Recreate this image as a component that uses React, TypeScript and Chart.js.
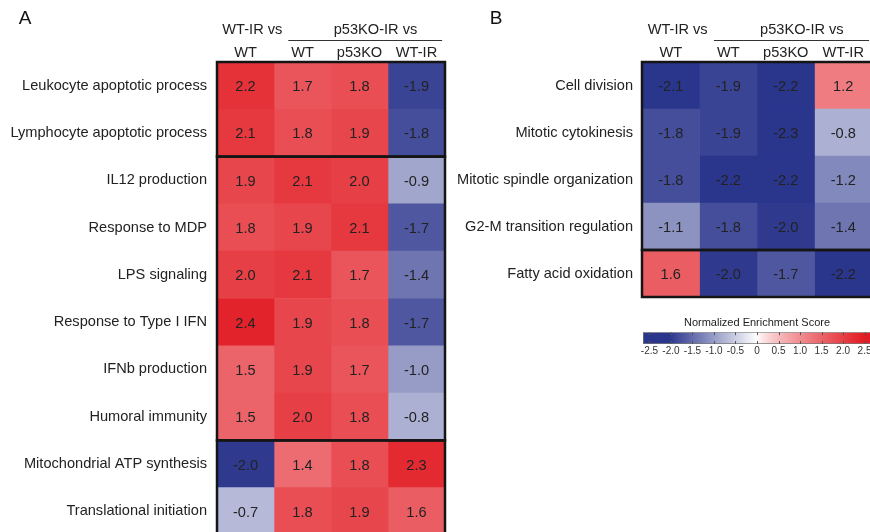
import React, { useEffect, useRef } from 'react';
import { Chart, registerables } from 'chart.js';

Chart.register(...registerables);

const FONT = "'Liberation Sans', Arial, Helvetica, sans-serif";
const TEXT = '#222222';
const FS = 14.6;

// ---- Data ----
const colLabels = ['WT', 'WT', 'p53KO', 'WT-IR'];
const groupHeaderLeft = 'WT-IR vs';
const groupHeaderRight = 'p53KO-IR vs';

const rowsA = [
  'Leukocyte apoptotic process',
  'Lymphocyte apoptotic process',
  'IL12 production',
  'Response to MDP',
  'LPS signaling',
  'Response to Type I IFN',
  'IFNb production',
  'Humoral immunity',
  'Mitochondrial ATP synthesis',
  'Translational initiation',
];
const aWtirVsWt = [2.2, 2.1, 1.9, 1.8, 2.0, 2.4, 1.5, 1.5, -2.0, -0.7];
const aKoVsWt = [1.7, 1.8, 2.1, 1.9, 2.1, 1.9, 1.9, 2.0, 1.4, 1.8];
const aKoVsKo = [1.8, 1.9, 2.0, 2.1, 1.7, 1.8, 1.7, 1.8, 1.8, 1.9];
const aKoVsWtir = [-1.9, -1.8, -0.9, -1.7, -1.4, -1.7, -1.0, -0.8, 2.3, 1.6];
const groupsA = [[0, 1], [2, 7], [8, 9]];

const rowsB = [
  'Cell division',
  'Mitotic cytokinesis',
  'Mitotic spindle organization',
  'G2-M transition regulation',
  'Fatty acid oxidation',
];
const bWtirVsWt = [-2.1, -1.8, -1.8, -1.1, 1.6];
const bKoVsWt = [-1.9, -1.9, -2.2, -1.8, -2.0];
const bKoVsKo = [-2.2, -2.3, -2.2, -2.0, -1.7];
const bKoVsWtir = [1.2, -0.8, -1.2, -1.4, -2.2];
const groupsB = [[0, 3], [4, 4]];

const colorbarTitle = 'Normalized Enrichment Score';
const colorbarTicks = [-2.5, -2.0, -1.5, -1.0, -0.5, 0, 0.5, 1.0, 1.5, 2.0, 2.5];
const colorbarMin = -2.65;
const colorbarMax = 2.65;

// ---- Colour scale ----
function nesColor(v: number): string {
  let f: number;
  let end: number[];
  if (v >= 0) {
    f = Math.pow(Math.min(1, v / 2.5), 0.75);
    end = [226, 28, 36];
  } else {
    f = Math.min(1, -v / 2.05);
    end = [42, 53, 140];
  }
  const c = end.map((e) => Math.round(255 + (e - 255) * f));
  return `rgb(${c[0]},${c[1]},${c[2]})`;
}

type HeatProps = {
  rows: string[];
  cols: number[][];
  groups: number[][];
  left: number;
  width: number;
  height: number;
  axisWidth: number;
  padRight: number;
  padBottom: number;
  labelPad: number;
  letter: string;
  letterX: number;
};

function Heatmap(p: HeatProps) {
  const ref = useRef<HTMLCanvasElement | null>(null);
  useEffect(() => {
    if (!ref.current) return;
    const decor = {
      id: 'decor',
      afterDatasetsDraw(chart: any) {
        const ctx = chart.ctx;
        const area = chart.chartArea;
        const ys = chart.scales.y;
        const xs = chart.scales.x;
        ctx.save();
        ctx.font = `${FS}px ${FONT}`;
        ctx.fillStyle = TEXT;
        ctx.textAlign = 'center';
        ctx.textBaseline = 'middle';
        chart.data.datasets.forEach((ds: any, di: number) => {
          const meta = chart.getDatasetMeta(di);
          meta.data.forEach((el: any, i: number) => {
            const c = el.getCenterPoint();
            ctx.fillText(ds.nes[i].toFixed(1), c.x, c.y + 1.5);
          });
        });
        const half = (area.bottom - area.top) / p.rows.length / 2;
        ctx.strokeStyle = '#151515';
        ctx.lineWidth = 2.5;
        p.groups.forEach((g) => {
          const top = ys.getPixelForValue(g[0]) - half;
          const bot = ys.getPixelForValue(g[1]) + half;
          ctx.strokeRect(area.left, top, area.right - area.left, bot - top);
        });
        ctx.font = `${FS}px ${FONT}`;
        ctx.fillText(groupHeaderLeft, xs.getPixelForValue(0.62), 29.5);
        ctx.fillText(groupHeaderRight, xs.getPixelForValue(2.78), 29.5);
        ctx.lineWidth = 1;
        ctx.strokeStyle = '#333';
        ctx.beginPath();
        ctx.moveTo(xs.getPixelForValue(1.25), 40.5);
        ctx.lineTo(xs.getPixelForValue(3.95), 40.5);
        ctx.stroke();
        ctx.font = `19px ${FONT}`;
        ctx.fillStyle = '#111';
        ctx.fillText(p.letter, p.letterX, 18.5);
        ctx.restore();
      },
    };
    const chart = new Chart(ref.current, {
      type: 'bar',
      data: {
        labels: p.rows,
        datasets: p.cols.map((vals, ci) => ({
          label: colLabels[ci],
          data: vals.map(() => [ci, ci + 1]),
          nes: vals,
          backgroundColor: vals.map(nesColor),
          borderWidth: 0,
          barPercentage: 1,
          categoryPercentage: 1,
          grouped: false,
          xAxisID: 'x',
          yAxisID: 'y',
        })) as any,
      },
      options: {
        animation: false,
        responsive: false,
        indexAxis: 'y',
        layout: { padding: { left: 0, right: p.padRight, top: 0, bottom: p.padBottom } },
        plugins: { legend: { display: false }, tooltip: { enabled: false } },
        scales: {
          x: { type: 'linear', min: 0, max: 4, display: false },
          xTop: {
            type: 'category',
            axis: 'x',
            position: 'top',
            labels: colLabels,
            offset: true,
            grid: { display: false, drawTicks: false },
            border: { display: false },
            ticks: { font: { size: FS, family: FONT }, color: TEXT, padding: 0, maxRotation: 0, autoSkip: false },
            afterFit: (s: any) => {
              s.height = 62;
              s.paddingLeft = 0;
              s.paddingRight = 0;
            },
          } as any,
          y: {
            type: 'category',
            offset: true,
            grid: { display: false, drawTicks: false },
            border: { display: false },
            ticks: { font: { size: FS, family: FONT }, color: TEXT, padding: p.labelPad, autoSkip: false },
            afterFit: (s: any) => {
              s.width = p.axisWidth;
              s.paddingTop = 0;
              s.paddingBottom = 0;
            },
          },
        },
      } as any,
      plugins: [decor],
    });
    return () => chart.destroy();
  }, []);
  return (
    <canvas
      ref={ref}
      width={p.width}
      height={p.height}
      style={{ position: 'absolute', left: p.left, top: 0, width: p.width, height: p.height }}
    />
  );
}

function ColorBar() {
  const ref = useRef<HTMLCanvasElement | null>(null);
  useEffect(() => {
    if (!ref.current) return;
    const tickMarks = {
      id: 'tickMarks',
      afterDatasetsDraw(chart: any) {
        const ctx = chart.ctx;
        const a = chart.chartArea;
        const xs = chart.scales.x;
        ctx.save();
        ctx.strokeStyle = '#555';
        ctx.lineWidth = 1;
        colorbarTicks.forEach((v) => {
          const x = Math.round(xs.getPixelForValue(v)) + 0.5;
          ctx.beginPath();
          ctx.moveTo(x, a.top);
          ctx.lineTo(x, a.top + 3);
          ctx.moveTo(x, a.bottom - 3);
          ctx.lineTo(x, a.bottom);
          ctx.stroke();
        });
        ctx.restore();
      },
    };
    const chart = new Chart(ref.current, {
      type: 'bar',
      data: {
        labels: [''],
        datasets: [
          {
            data: [[colorbarMin, colorbarMax]],
            backgroundColor: (c: any) => {
              const ch = c.chart;
              const a = ch.chartArea;
              if (!a) return '#fff';
              const xs = ch.scales.x;
              const g = ch.ctx.createLinearGradient(a.left, 0, a.right, 0);
              const n = 80;
              for (let i = 0; i <= n; i++) {
                const v = colorbarMin + ((colorbarMax - colorbarMin) * i) / n;
                const pos = (xs.getPixelForValue(v) - a.left) / (a.right - a.left);
                g.addColorStop(Math.min(1, Math.max(0, pos)), nesColor(v));
              }
              return g;
            },
            borderColor: '#777',
            borderWidth: 1,
            borderSkipped: false,
            barPercentage: 1,
            categoryPercentage: 1,
          },
        ] as any,
      },
      options: {
        animation: false,
        responsive: false,
        indexAxis: 'y',
        layout: { padding: { left: 43, right: 29, top: 0, bottom: 0 } },
        plugins: {
          legend: { display: false },
          tooltip: { enabled: false },
          title: {
            display: true,
            text: colorbarTitle,
            font: { size: 11, family: FONT, weight: 'normal' },
            color: TEXT,
            padding: { top: 16, bottom: 3 },
          },
        },
        scales: {
          x: {
            type: 'linear',
            min: colorbarMin,
            max: colorbarMax,
            position: 'bottom',
            grid: { display: false, drawTicks: false },
            border: { display: false },
            afterBuildTicks: (s: any) => { s.ticks = colorbarTicks.map((v) => ({ value: v })); },
            afterFit: (s: any) => { s.height = 16; },
            ticks: {
              font: { size: 10, family: FONT },
              color: '#333',
              padding: 1,
              autoSkip: false,
              maxRotation: 0,
              callback: (v: any) => (Number(v) === 0 ? '0' : Number(v).toFixed(1)),
            },
          },
          y: { type: 'category', display: false, offset: true },
        },
      } as any,
      plugins: [tickMarks],
    });
    return () => chart.destroy();
  }, []);
  return (
    <canvas
      ref={ref}
      width={300}
      height={60}
      style={{ position: 'absolute', left: 600, top: 300, width: 300, height: 60 }}
    />
  );
}

export default function App() {
  return (
    <div
      style={{
        position: 'absolute',
        left: 0,
        top: 0,
        width: 870,
        height: 532,
        overflow: 'hidden',
        background: '#fff',
      }}
    >
      <Heatmap
        rows={rowsA}
        cols={[aWtirVsWt, aKoVsWt, aKoVsKo, aKoVsWtir]}
        groups={groupsA}
        left={0}
        width={450}
        height={535}
        axisWidth={217}
        padRight={5}
        padBottom={0}
        labelPad={10}
        letter="A"
        letterX={25}
      />
      <Heatmap
        rows={rowsB}
        cols={[bWtirVsWt, bKoVsWt, bKoVsKo, bKoVsWtir]}
        groups={groupsB}
        left={440}
        width={440}
        height={300}
        axisWidth={202}
        padRight={8}
        padBottom={3}
        labelPad={9}
        letter="B"
        letterX={56}
      />
      <ColorBar />
    </div>
  );
}
